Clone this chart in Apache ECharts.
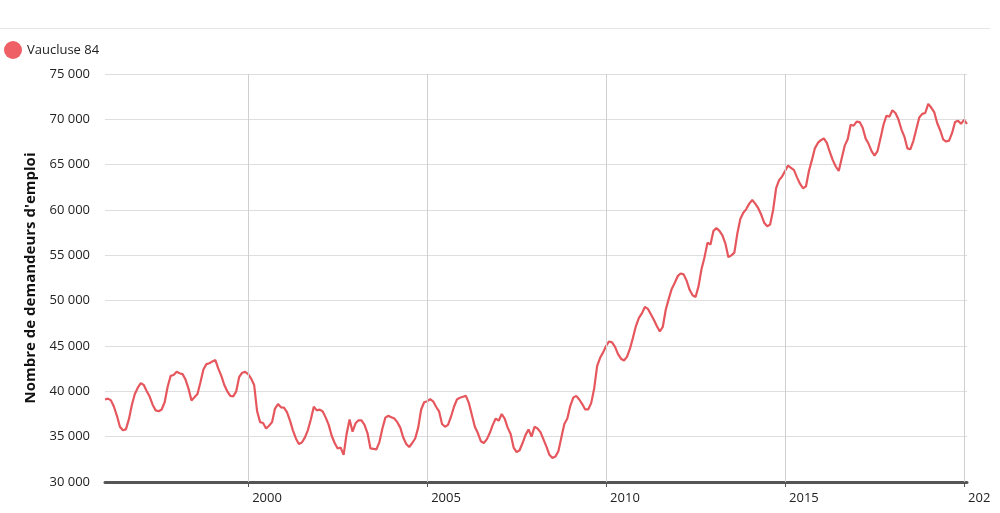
<!DOCTYPE html>
<html>
<head>
<meta charset="utf-8">
<script src="https://cdn.jsdelivr.net/npm/echarts@6/dist/echarts.min.js"></script>
<style>
html,body{margin:0;padding:0;background:#fff;overflow:hidden;}
#chart{width:990px;height:513px;}
</style>
</head>
<body>
<div id="chart"></div>
<script>
// Monthly values, starting January 1996
var seriesName = 'Vaucluse 84';
var startYear = 1996;
var values = [
  39100, 39200, 39000, 38300, 37300, 36100, 35700, 35800, 36900, 38500, 39700, 40400,
  40900, 40700, 40000, 39400, 38500, 37900, 37800, 38000, 38800, 40500, 41700, 41800,
  42150, 42000, 41900, 41300, 40300, 39000, 39340, 39700, 41000, 42400, 43000, 43100,
  43300, 43450, 42500, 41700, 40700, 40000, 39500, 39450, 40000, 41600, 42050, 42150,
  41900, 41400, 40700, 37800, 36600, 36500, 35900, 36200, 36600, 38100, 38600, 38240,
  38200, 37700, 36800, 35700, 34800, 34200, 34350, 34900, 35700, 36900, 38300, 37900,
  37980, 37770, 37100, 36300, 35100, 34300, 33700, 33800, 33000, 35300, 36900, 35550,
  36470, 36800, 36800, 36300, 35400, 33700, 33650, 33600, 34400, 35900, 37100, 37300,
  37150, 37000, 36600, 36000, 34900, 34200, 33850, 34300, 34800, 36000, 38000, 38800,
  38900, 39150, 38900, 38300, 37800, 36400, 36100, 36300, 37200, 38300, 39100, 39300,
  39400, 39500, 38700, 37400, 36100, 35400, 34500, 34300, 34700, 35400, 36300, 37000,
  36760, 37500, 37000, 36000, 35300, 33800, 33300, 33500, 34300, 35200, 35800, 35000,
  36100, 35900, 35500, 34700, 33900, 33000, 32650, 32800, 33400, 34900, 36400, 37000,
  38400, 39300, 39500, 39100, 38600, 38000, 38000, 38700, 40300, 42800, 43700, 44300,
  45000, 45500, 45400, 44900, 44100, 43600, 43400, 43800, 44700, 45900, 47200, 48100,
  48600, 49300, 49100, 48500, 47900, 47200, 46600, 47100, 49000, 50200, 51300, 51950,
  52700, 53000, 52900, 52200, 51200, 50600, 50400, 51600, 53500, 54800, 56400, 56200,
  57700, 58000, 57700, 57200, 56300, 54800, 55000, 55300, 57400, 59000, 59700, 60100,
  60700, 61100, 60700, 60200, 59500, 58600, 58200, 58400, 60000, 62400, 63300, 63700,
  64300, 64900, 64650, 64400, 63600, 62900, 62400, 62600, 64300, 65500, 66800, 67400,
  67700, 67900, 67400, 66400, 65500, 64800, 64300, 65700, 67100, 67800, 69400, 69300,
  69750, 69700, 69100, 67900, 67300, 66500, 66000, 66500, 67900, 69400, 70400, 70300,
  71000, 70700, 70000, 68900, 68100, 66800, 66700, 67600, 68900, 70200, 70600, 70700,
  71700, 71300, 70800, 69600, 68800, 67800, 67550, 67650, 68500, 69700, 69850, 69500,
  69950, 69500
];
var xTickYears = [2000, 2005, 2010, 2015, 2020];
var yTicks = [30000, 35000, 40000, 45000, 50000, 55000, 60000, 65000, 70000, 75000];
var yTitle = "Nombre de demandeurs d'emploi";

var points = values.map(function (v, i) { return [startYear + i / 12, v]; });
var lastX = startYear + (values.length - 1) / 12;

function fmt(v) {
  return String(v).replace(/\B(?=(\d{3})+(?!\d))/g, ' ');
}

var chart = echarts.init(document.getElementById('chart'), null, { renderer: 'canvas' });
chart.setOption({
  animation: false,
  textStyle: { fontFamily: 'Open Sans' },
  graphic: [{
    type: 'line',
    shape: { x1: 0, y1: 28.5, x2: 990, y2: 28.5 },
    style: { stroke: '#e6e6e6', lineWidth: 1 }
  }],
  legend: {
    left: 4,
    top: 41,
    padding: 0,
    icon: 'circle',
    itemWidth: 18,
    itemHeight: 18,
    textStyle: { fontSize: 13, color: '#222', fontFamily: 'Open Sans' },
    data: [seriesName]
  },
  grid: { left: 105, right: 23, top: 74, bottom: 31, containLabel: false, outerBoundsMode: 'none' },
  xAxis: {
    type: 'value',
    min: startYear,
    max: lastX,
    axisLine: { show: true, lineStyle: { color: '#555', width: 3 } },
    axisTick: { show: true, customValues: xTickYears, length: 5, lineStyle: { color: '#555', width: 1 } },
    axisLabel: {
      customValues: xTickYears,
      formatter: function (v) { return String(Math.round(v)); },
      align: 'left',
      padding: [0, 0, 0, 4],
      margin: 10,
      fontSize: 13,
      color: '#222',
      fontFamily: 'Open Sans',
      hideOverlap: false
    },
    splitLine: { show: false }
  },
  yAxis: {
    type: 'value',
    min: yTicks[0],
    max: yTicks[yTicks.length - 1],
    interval: yTicks[1] - yTicks[0],
    name: yTitle,
    nameLocation: 'middle',
    nameGap: 67,
    nameRotate: 90,
    nameTextStyle: { fontSize: 15, fontWeight: 'bold', color: '#111', fontFamily: 'Open Sans' },
    axisLine: { show: false },
    axisTick: { show: false },
    axisLabel: { formatter: fmt, margin: 15, fontSize: 13, color: '#222', fontFamily: 'Open Sans' },
    splitLine: { show: true, lineStyle: { color: '#dedede', width: 1 } }
  },
  series: [{
    name: seriesName,
    type: 'line',
    data: points,
    showSymbol: false,
    symbol: 'none',
    lineStyle: { color: '#e5575d', width: 2.2 },
    itemStyle: { color: '#ee5f66' },
    markLine: {
      silent: true,
      symbol: 'none',
      label: { show: false },
      lineStyle: { color: '#cfcfcf', width: 1, type: 'solid' },
      data: xTickYears.map(function (y) { return { xAxis: y }; })
    },
    z: 3
  }]
});
</script>
</body>
</html>
